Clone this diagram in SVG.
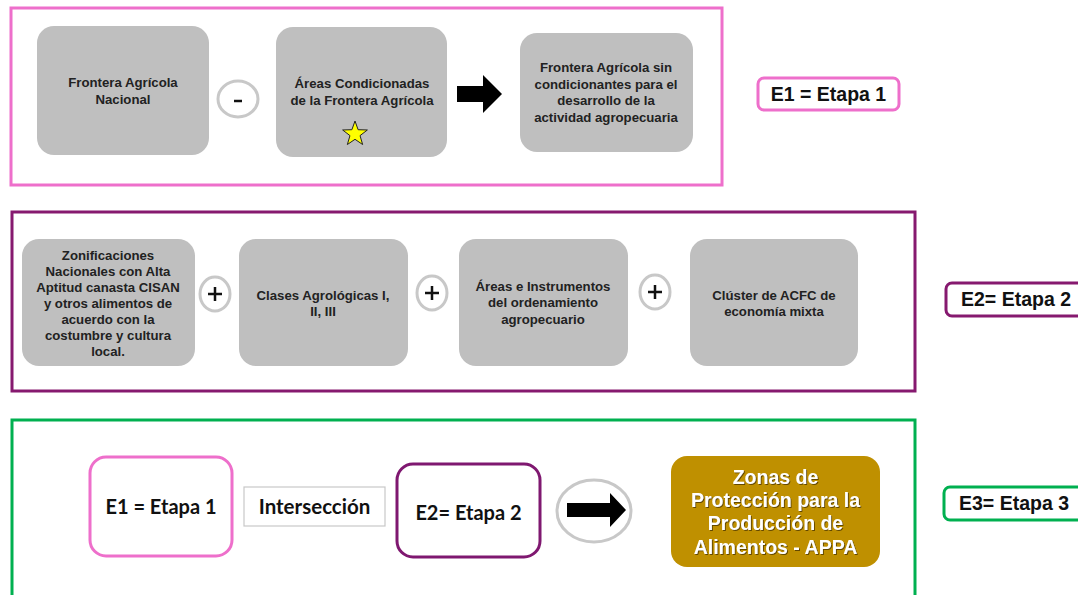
<svg xmlns="http://www.w3.org/2000/svg" width="1078" height="595" viewBox="0 0 1078 595">
<defs>
<style>
.frame{fill:none;stroke-width:3}
.gbox{fill:#BFBFBF}
.gt{font-family:"Liberation Sans",Arial,sans-serif;font-weight:bold;font-size:13.2px;fill:#222;text-anchor:middle}
.lab{fill:#fff;stroke-width:3}
.lt{font-family:"Liberation Sans",Arial,sans-serif;font-weight:bold;font-size:19.5px;fill:#111;text-anchor:middle}
.ct{font-family:Lato,"Open Sans",sans-serif;font-weight:bold;font-size:20px;fill:#111;text-anchor:middle}
.op{fill:#fff;stroke:#C8C8C8;stroke-width:3}
.sign{stroke:#111;stroke-width:2.5;fill:none}
.at{font-family:"Liberation Sans",Arial,sans-serif;font-weight:bold;font-size:19.5px;fill:#fff;text-anchor:middle}
</style>
<filter id="sh" x="-10%" y="-10%" width="120%" height="130%">
<feDropShadow dx="1" dy="1" stdDeviation="0.6" flood-color="#3a2a00" flood-opacity="0.7"/>
</filter>
</defs>
<rect width="1078" height="595" fill="#fff"/>

<g id="etapa1">
<rect class="frame" x="11" y="8" width="711" height="177" stroke="#EE6FCB"/>
<g id="n-frontera-nacional">
<rect class="gbox" x="37" y="26" width="172" height="129" rx="17"/>
<text class="gt"><tspan x="123" y="87">Frontera Agrícola</tspan><tspan x="123" y="104">Nacional</tspan></text>
</g>
<g id="n-areas-condicionadas">
<rect class="gbox" x="276" y="27" width="171" height="130" rx="17"/>
<text class="gt"><tspan x="362" y="88">Áreas Condicionadas</tspan><tspan x="362" y="105">de la Frontera Agrícola</tspan></text>
<polygon points="355,121 358.12,129.71 367.36,129.98 360.04,135.64 362.64,144.52 355,139.3 347.36,144.52 349.96,135.64 342.64,129.98 351.88,129.71" fill="#FFFF00" stroke="#222" stroke-width="1"/>
</g>
<g id="n-frontera-sin">
<rect class="gbox" x="520" y="33" width="173" height="119" rx="17"/>
<text class="gt"><tspan x="606" y="72">Frontera Agrícola sin</tspan><tspan x="606" y="89">condicionantes para el</tspan><tspan x="606" y="105">desarrollo de la</tspan><tspan x="606" y="122">actividad agropecuaria</tspan></text>
</g>
</g>
<g id="label-e1">
<rect class="lab" x="758" y="78" width="141" height="32" rx="6" stroke="#EE6FCB"/>
<text class="lt" x="828.5" y="101">E1 = Etapa 1</text>
</g>

<g id="etapa2">
<rect class="frame" x="12" y="212" width="903" height="179" stroke="#86196F"/>
<g id="n-zonificaciones">
<rect class="gbox" x="22" y="239" width="173" height="127" rx="17"/>
<text class="gt"><tspan x="108" y="260">Zonificaciones</tspan><tspan x="108" y="276">Nacionales con Alta</tspan><tspan x="108" y="292">Aptitud canasta CISAN</tspan><tspan x="108" y="308">y otros alimentos de</tspan><tspan x="108" y="324">acuerdo con la</tspan><tspan x="108" y="340">costumbre y cultura</tspan><tspan x="108" y="356">local.</tspan></text>
</g>
<g id="n-clases">
<rect class="gbox" x="239" y="239" width="169" height="127" rx="17"/>
<text class="gt"><tspan x="323" y="300">Clases  Agrológicas I,</tspan><tspan x="323" y="316">II, III</tspan></text>
</g>
<g id="n-areas-instrumentos">
<rect class="gbox" x="459" y="239" width="169" height="127" rx="17"/>
<text class="gt"><tspan x="543" y="291">Áreas e Instrumentos</tspan><tspan x="543" y="307">del ordenamiento</tspan><tspan x="543" y="324">agropecuario</tspan></text>
</g>
<g id="n-cluster">
<rect class="gbox" x="690" y="239" width="168" height="127" rx="17"/>
<text class="gt"><tspan x="774" y="300">Clúster de ACFC de</tspan><tspan x="774" y="316">economía mixta</tspan></text>
</g>
</g>
<g id="label-e2">
<rect class="lab" x="946" y="283" width="145" height="33" rx="6" stroke="#86196F"/>
<text class="lt" x="1016" y="306">E2= Etapa 2</text>
</g>

<g id="etapa3">
<rect class="frame" x="12" y="420" width="903" height="190" stroke="#00B050"/>
<g id="n-e1">
<rect x="90" y="457" width="142" height="99" rx="16" fill="#fff" stroke="#EE6FCB" stroke-width="3"/>
<text class="ct" x="161" y="514">E1 = Etapa 1</text>
</g>
<g id="n-interseccion">
<rect x="244" y="487" width="141" height="39" fill="#fff" stroke="#C8C8C8" stroke-width="1.2"/>
<text class="ct" x="314.5" y="514" style="font-size:20.5px">Intersección</text>
</g>
<g id="n-e2">
<rect x="397" y="464" width="143" height="93" rx="16" fill="#fff" stroke="#7F1870" stroke-width="3"/>
<text class="ct" x="468.5" y="520">E2= Etapa 2</text>
</g>
<g id="n-appa">
<rect x="671" y="456" width="209" height="111" rx="16" fill="#BF9000"/>
<text class="at" filter="url(#sh)"><tspan x="775.5" y="484">Zonas de</tspan><tspan x="775.5" y="507">Protección para la</tspan><tspan x="775.5" y="530">Producción de</tspan><tspan x="775.5" y="554">Alimentos - APPA</tspan></text>
</g>
</g>
<g id="label-e3">
<rect class="lab" x="944" y="487" width="147" height="33" rx="6" stroke="#00B050"/>
<text class="lt" x="1014" y="510">E3= Etapa 3</text>
</g>

<g id="connectors">
<ellipse class="op" cx="238" cy="99" rx="20" ry="18"/>
<line class="sign" x1="234" y1="101" x2="242" y2="101"/>
<polygon points="457,86 483,86 483,75 502,94 483,113 483,102 457,102" fill="#000"/>
<ellipse class="op" cx="215" cy="294" rx="15" ry="17"/>
<path class="sign" d="M208,294 H222 M215,287 V301"/>
<ellipse class="op" cx="432" cy="293" rx="15" ry="17"/>
<path class="sign" d="M425,293 H439 M432,286 V300"/>
<ellipse class="op" cx="655" cy="292" rx="15" ry="17"/>
<path class="sign" d="M648,292 H662 M655,285 V299"/>
<ellipse class="op" cx="594" cy="511" rx="37" ry="31"/>
<polygon points="567,503 610,503 610,493 626,510 610,527 610,517 567,517" fill="#000"/>
</g>
</svg>
